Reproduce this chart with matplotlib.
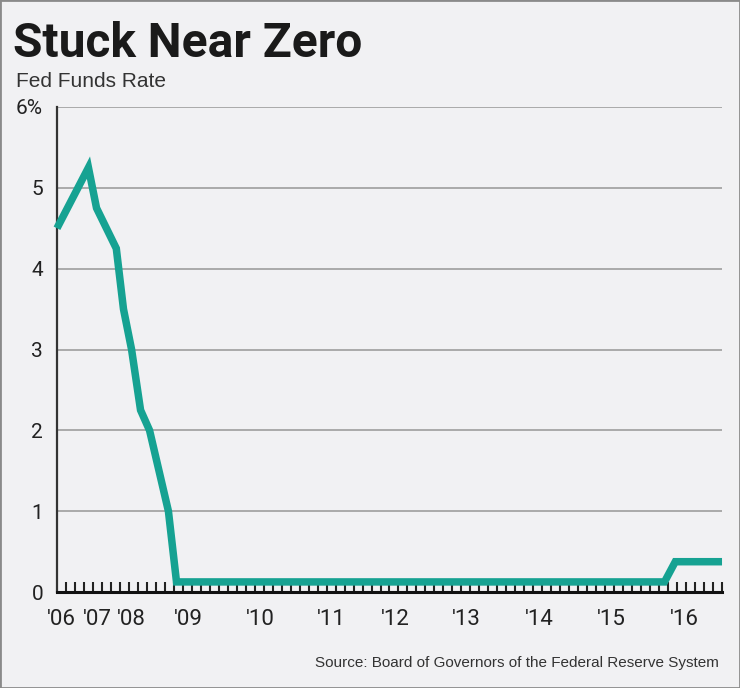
import matplotlib
matplotlib.use("Agg")
import matplotlib.pyplot as plt
from matplotlib.patches import Rectangle

# fed funds rate, x is the position along the meeting axis (tick index)
idx = [0, 3.5, 4.4, 6.6, 7.4, 8.3, 9.3, 10.3, 12.4, 13.3, 67.6, 68.8, 74]
rate = [4.5, 5.25, 4.75, 4.25, 3.5, 3.0, 2.25, 2.0, 1.0, 0.125, 0.125, 0.375, 0.375]

year_pos = [0.5, 4.5, 8.3, 14.6, 22.6, 30.5, 37.7, 45.6, 53.7, 61.7, 69.8]
year_labels = ["'06", "'07", "'08", "'09", "'10", "'11", "'12", "'13", "'14", "'15", "'16"]
n_ticks = 74

ytick_vals = [0, 1, 2, 3, 4, 5, 6]
ytick_labels = ["0", "1", "2", "3", "4", "5", "6%"]

bg = "#f1f1f3"
teal = "#16a292"
narrow = ["Roboto", "DejaVu Sans"]
plain = ["Liberation Sans", "DejaVu Sans"]

fig = plt.figure(figsize=(7.4, 6.88), dpi=100, facecolor=bg)
ax = fig.add_axes([0.077, 0.1395, 0.8987, 0.705])
ax.set_facecolor(bg)

ax.plot(idx, rate, color=teal, lw=5.4, solid_joinstyle="miter", solid_capstyle="butt",
        clip_on=False, zorder=5)

ax.set_xlim(0, n_ticks)
ax.set_ylim(0, 6)

ax.set_yticks(ytick_vals)
ax.set_yticklabels(ytick_labels, family=narrow, fontsize=15, color="#222")
ax.tick_params(axis="y", length=0, pad=10)
ax.grid(axis="y", color="#9d9d9d", lw=1.2)
ax.set_axisbelow(True)

ax.set_xticks(year_pos)
ax.set_xticklabels(year_labels, family=narrow, fontsize=16, color="#222")
ax.set_xticks(range(1, n_ticks + 1), minor=True)
ax.tick_params(axis="x", which="major", length=0, pad=12)
ax.tick_params(axis="x", which="minor", direction="in", length=7.5, width=1.5, color="#222")

for s in ["top", "right"]:
    ax.spines[s].set_visible(False)
ax.spines["left"].set_color("#333")
ax.spines["left"].set_linewidth(1.6)
ax.spines["bottom"].set_color("#111")
ax.spines["bottom"].set_linewidth(2.2)
ax.spines["bottom"].set_zorder(6)

fig.text(0.018, 0.917, "Stuck Near Zero", family=narrow, fontweight="bold",
         fontsize=34.5, color="#1a1a1a")
fig.text(0.021, 0.874, "Fed Funds Rate", family=plain, fontsize=15, color="#333")
fig.text(0.972, 0.03, "Source: Board of Governors of the Federal Reserve System",
         family=plain, fontsize=11, color="#333", ha="right")

fig.patches.append(Rectangle((0, 0), 1, 1, transform=fig.transFigure, fill=False,
                             edgecolor="#8a8a8a", lw=2))

fig.savefig("out.png", dpi=100, facecolor=bg)
